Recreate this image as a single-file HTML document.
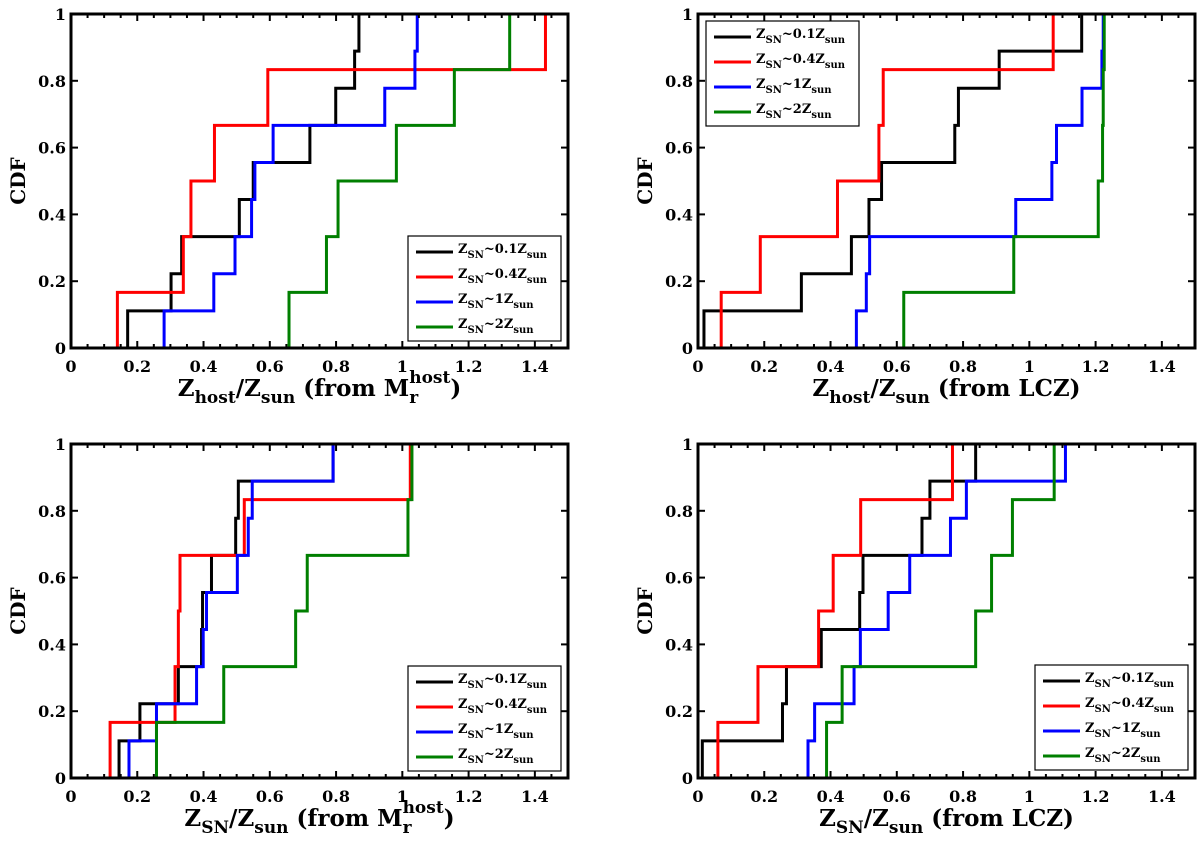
<!DOCTYPE html>
<html><head><meta charset="utf-8"><style>
body{margin:0;background:#fff;width:1200px;height:839px;overflow:hidden}
svg text{font-family:"DejaVu Serif","Liberation Serif",serif;font-weight:bold;fill:#000}
</style></head><body>
<svg id="fig" width="1200" height="839" xmlns="http://www.w3.org/2000/svg"></svg>
<script>
const colorNames = ["black","red","blue","green"];
const seriesLabels = ["~0.1Z","~0.4Z","~1Z","~2Z"];
const xTicks = [0,0.2,0.4,0.6,0.8,1,1.2,1.4];
const xTickLabels = ["0","0.2","0.4","0.6","0.8","1","1.2","1.4"];
const yTicks = [0,0.2,0.4,0.6,0.8,1];
const yTickLabels = ["0","0.2","0.4","0.6","0.8","1"];
// panel A: Z_host from M_r
const aBlack = [0.171,0.302,0.334,0.508,0.55,0.721,0.799,0.856,0.869];
const aRed = [0.14,0.339,0.362,0.433,0.594,1.432];
const aBlue = [0.281,0.431,0.495,0.545,0.555,0.610,0.947,1.038,1.045];
const aGreen = [0.658,0.771,0.806,0.982,1.157,1.324];
// panel B: Z_host from LCZ
const bBlack = [0.018,0.312,0.463,0.516,0.554,0.775,0.786,0.909,1.158];
const bRed = [0.070,0.188,0.421,0.546,0.559,1.072];
const bBlue = [0.478,0.508,0.518,0.959,1.068,1.082,1.159,1.219,1.223];
const bGreen = [0.621,0.953,1.208,1.221,1.223,1.226];
// panel C: Z_SN from M_r
const cBlack = [0.145,0.208,0.324,0.394,0.397,0.424,0.497,0.505,0.791];
const cRed = [0.118,0.314,0.324,0.329,0.523,1.024];
const cBlue = [0.175,0.258,0.379,0.399,0.409,0.502,0.535,0.547,0.791];
const cGreen = [0.258,0.461,0.678,0.713,1.017,1.029];
// panel D: Z_SN from LCZ
const dBlack = [0.013,0.255,0.267,0.372,0.488,0.498,0.676,0.700,0.838];
const dRed = [0.060,0.181,0.364,0.408,0.491,0.768];
const dBlue = [0.332,0.352,0.471,0.490,0.574,0.639,0.762,0.810,1.109];
const dGreen = [0.388,0.435,0.838,0.886,0.949,1.075];

const NS="http://www.w3.org/2000/svg";
const svg=document.getElementById('fig');
function mk(tag,attrs,parent){const e=document.createElementNS(NS,tag);for(const k in attrs)e.setAttribute(k,attrs[k]);(parent||svg).appendChild(e);return e;}
const strokeCols={black:"#000",red:"#ff0000",blue:"#0000ff",green:"#007f00"};

const panels=[
 {id:"a",L:71,R:568,T:14,B:348,series:[aBlack,aRed,aBlue,aGreen],leg:[408,236],sub1:"host",tail:" (from M",mr:true},
 {id:"b",L:698,R:1195,T:14,B:348,series:[bBlack,bRed,bBlue,bGreen],leg:[706,21],sub1:"host",tail:" (from LCZ)",mr:false},
 {id:"c",L:71,R:568,T:444,B:778,series:[cBlack,cRed,cBlue,cGreen],leg:[408,666],sub1:"SN",tail:" (from M",mr:true},
 {id:"d",L:698,R:1195,T:444,B:778,series:[dBlack,dRed,dBlue,dGreen],leg:[1035,665],sub1:"SN",tail:" (from LCZ)",mr:false}
];

panels.forEach(p=>{
  const g=mk('g',{});
  
  
  const xs=v=>p.L+(p.R-p.L)*v/1.5;
  const ys=v=>p.B-(p.B-p.T)*v;
  p.series.forEach((arr,si)=>{
    const n=arr.length;
    let d="M"+xs(arr[0])+","+ys(0);
    for(let i=0;i<n;i++){
      d+=" V"+ys((i+1)/n);
      if(i<n-1) d+=" H"+xs(arr[i+1]);
    }
    const path=mk('path',{d:d,fill:"none",stroke:strokeCols[colorNames[si]],"stroke-width":3},g);
    
    
  });
  for(let v=0;v<=1.5001;v+=0.05){
    const x=xs(v);
    const major=Math.abs(v*5-Math.round(v*5))<1e-6;
    const len=major?7:4;
    mk('line',{x1:x,x2:x,y1:p.B,y2:p.B-len,stroke:"#000","stroke-width":2},g);
    mk('line',{x1:x,x2:x,y1:p.T,y2:p.T+len,stroke:"#000","stroke-width":2},g);
  }
  yTicks.forEach(v=>{
    const y=ys(v);
    mk('line',{x1:p.L,x2:p.L+7,y1:y,y2:y,stroke:"#000","stroke-width":2},g);
    mk('line',{x1:p.R,x2:p.R-7,y1:y,y2:y,stroke:"#000","stroke-width":2},g);
  });
  const fr=mk('rect',{x:p.L,y:p.T,width:p.R-p.L,height:p.B-p.T,fill:"none",stroke:"#000","stroke-width":3},g);
  
  
  xTicks.forEach((v,i)=>{
    const t=mk('text',{x:xs(v),y:p.B+24,"text-anchor":"middle","font-size":16},g);
    t.textContent=xTickLabels[i];
    
    
  });
  yTicks.forEach((v,i)=>{
    const t=mk('text',{x:p.L-5,y:ys(v)+6,"text-anchor":"end","font-size":16},g);
    t.textContent=yTickLabels[i];
    
    
  });
  const yt=mk('text',{x:0,y:0,"text-anchor":"middle","font-size":20,transform:"translate("+(p.L-46)+","+((p.T+p.B)/2)+") rotate(-90)"},g);
  yt.textContent="CDF";
  
  
  const cx=(p.L+p.R)/2, ty=p.B+48;
  const xt=mk('text',{x:cx,y:ty,"text-anchor":"middle","font-size":23},g);
  
  
  let html='Z<tspan font-size="17" dy="7">'+p.sub1+'</tspan><tspan dy="-7">/Z</tspan><tspan font-size="17" dy="7">sun</tspan><tspan dy="-7">'+p.tail+'</tspan>';
  if(p.mr) html+='<tspan font-size="17" dy="7">r</tspan><tspan font-size="17" dx="-9" dy="-20">host</tspan><tspan dy="13">)</tspan>';
  xt.innerHTML=html;
  const [lx,ly]=p.leg;
  const lg=mk('g',{},g);
  
  
  mk('rect',{x:lx,y:ly,width:153,height:105,fill:"#fff",stroke:"#000","stroke-width":1.2},lg);
  colorNames.forEach((c,i)=>{
    const yy=ly+16+i*25;
    const e=mk('g',{},lg);
    
    
    mk('line',{x1:lx+8,x2:lx+45,y1:yy,y2:yy,stroke:strokeCols[c],"stroke-width":3},e);
    const t=mk('text',{x:lx+50,y:yy+1,"font-size":13},e);
    t.innerHTML='Z<tspan font-size="10" dy="5">SN</tspan><tspan dy="-5">'+seriesLabels[i]+'</tspan><tspan font-size="10" dy="5">sun</tspan>';
  });
  svg.appendChild(g);
});
</script>
</body></html>
